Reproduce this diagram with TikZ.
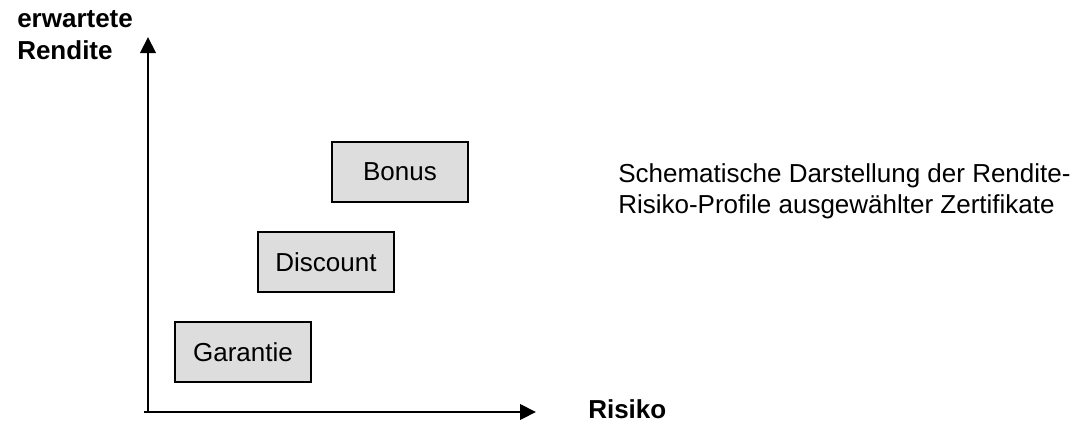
\documentclass[tikz,border=0pt]{standalone}
\usepackage{fontspec}
\setmainfont{Liberation Sans}
\usepackage{tikz}
\usetikzlibrary{arrows.meta}

\tikzset{
    achse/.style={
        line width=2.1pt,
        -{Triangle[length=12pt, width=11.5pt]}
    },
    profil/.style={
        draw=black,
        line width=1.1pt,
        fill=gray!27,
        minimum width=102pt,
        minimum height=45pt,
        inner sep=0pt,
        font=\fontsize{19.5}{23}\selectfont
    },
    achsentext/.style={
        font=\fontsize{19.5}{24}\selectfont\bfseries,
        inner sep=0pt
    }
}

\begin{document}
\begin{tikzpicture}[x=0.75pt, y=-0.75pt]

\useasboundingbox (0,0) rectangle (1081,421);

% ---------------- ACHSEN ----------------

\coordinate (ursprung) at (148,412);
\coordinate (yspitze) at (148,37);
\coordinate (xspitze) at (536,412);

\draw[achse] ([yshift=-1pt]ursprung) -- (yspitze);
\draw[achse] ([xshift=-3pt]ursprung) -- (xspitze);

\node[
    achsentext,
    align=left,
    anchor=north west
] (rendite) at (17,10) {erwartete\\Rendite};

\node[
    achsentext,
    anchor=west
] (risiko) at (588,409) {Risiko};

% ---------------- ZERTIFIKATE ----------------

\node[profil] (garantie) at (243,352) {Garantie};
\node[profil] (discount) at (326,262) {Discount};
\node[profil] (bonus) at (400,172) {Bonus};

% Beschreibung
\node[
    align=left,
    anchor=west,
    inner sep=0pt,
    font=\fontsize{19.5}{23}\selectfont
] (beschreibung) at (618,191)
    {Schematische Darstellung der Rendite-\\Risiko-Profile ausgewählter Zertifikate};

\end{tikzpicture}
\end{document}
